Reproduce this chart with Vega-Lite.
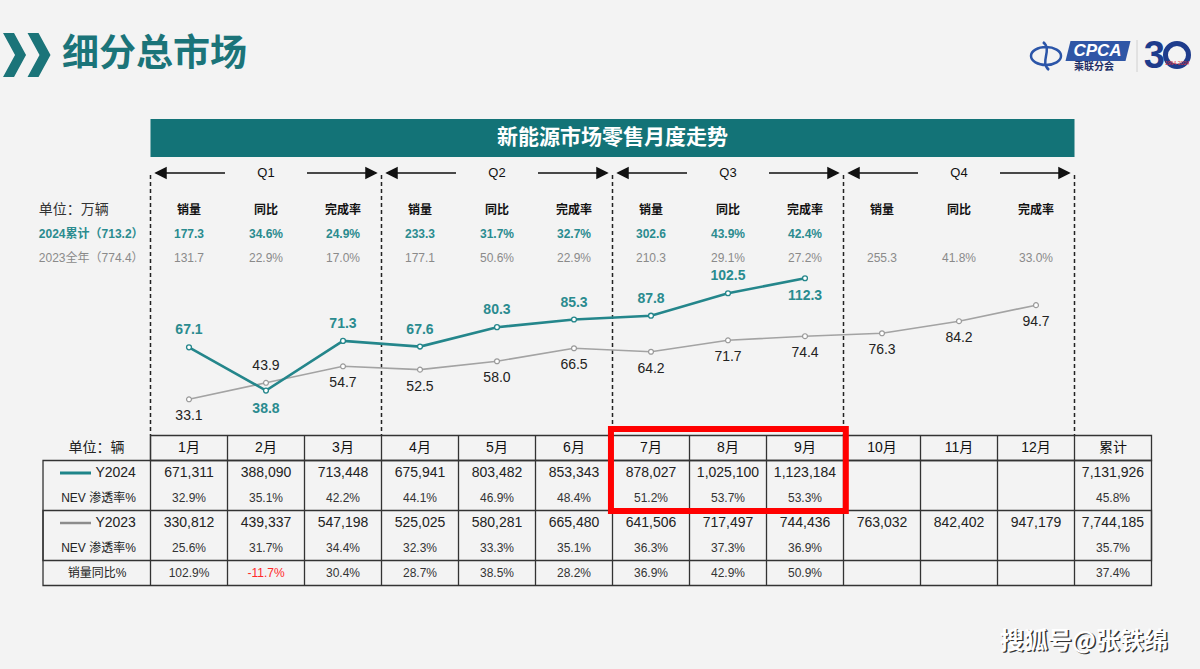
{
 "$schema": "https://vega.github.io/schema/vega-lite/v6.json",
 "width": 1200, "height": 669, "autosize": {"type": "none"}, "padding": 0,
 "background": "#f3f3f3",
 "config": {"view": {"stroke": null}, "text": {"font": "Liberation Sans, Noto Sans CJK SC"}},
 "datasets": {
  "months": [
   {"col":1,"label":"1月","s24":"671,311","p24":"32.9%","s23":"330,812","p23":"25.6%","yoy":"102.9%"},
   {"col":2,"label":"2月","s24":"388,090","p24":"35.1%","s23":"439,337","p23":"31.7%","yoy":"-11.7%"},
   {"col":3,"label":"3月","s24":"713,448","p24":"42.2%","s23":"547,198","p23":"34.4%","yoy":"30.4%"},
   {"col":4,"label":"4月","s24":"675,941","p24":"44.1%","s23":"525,025","p23":"32.3%","yoy":"28.7%"},
   {"col":5,"label":"5月","s24":"803,482","p24":"46.9%","s23":"580,281","p23":"33.3%","yoy":"38.5%"},
   {"col":6,"label":"6月","s24":"853,343","p24":"48.4%","s23":"665,480","p23":"35.1%","yoy":"28.2%"},
   {"col":7,"label":"7月","s24":"878,027","p24":"51.2%","s23":"641,506","p23":"36.3%","yoy":"36.9%"},
   {"col":8,"label":"8月","s24":"1,025,100","p24":"53.7%","s23":"717,497","p23":"37.3%","yoy":"42.9%"},
   {"col":9,"label":"9月","s24":"1,123,184","p24":"53.3%","s23":"744,436","p23":"36.9%","yoy":"50.9%"},
   {"col":10,"label":"10月","s23":"763,032"},
   {"col":11,"label":"11月","s23":"842,402"},
   {"col":12,"label":"12月","s23":"947,179"},
   {"col":13,"label":"累计","s24":"7,131,926","p24":"45.8%","s23":"7,744,185","p23":"35.7%","yoy":"37.4%"}
  ],
  "lines": [
   {"col":1,"series":"Y2024","value":67.1},{"col":2,"series":"Y2024","value":38.8},{"col":3,"series":"Y2024","value":71.3},
   {"col":4,"series":"Y2024","value":67.6},{"col":5,"series":"Y2024","value":80.3},{"col":6,"series":"Y2024","value":85.3},
   {"col":7,"series":"Y2024","value":87.8},{"col":8,"series":"Y2024","value":102.5},{"col":9,"series":"Y2024","value":112.3},
   {"col":1,"series":"Y2023","value":33.1},{"col":2,"series":"Y2023","value":43.9},{"col":3,"series":"Y2023","value":54.7},
   {"col":4,"series":"Y2023","value":52.5},{"col":5,"series":"Y2023","value":58.0},{"col":6,"series":"Y2023","value":66.5},
   {"col":7,"series":"Y2023","value":64.2},{"col":8,"series":"Y2023","value":71.7},{"col":9,"series":"Y2023","value":74.4},
   {"col":10,"series":"Y2023","value":76.3},{"col":11,"series":"Y2023","value":84.2},{"col":12,"series":"Y2023","value":94.7}
  ],
  "stats": [
   {"col":1,"quarter":"Q1","metric":"销量","v2024":"177.3","v2023":"131.7"},
   {"col":2,"quarter":"Q1","metric":"同比","v2024":"34.6%","v2023":"22.9%"},
   {"col":3,"quarter":"Q1","metric":"完成率","v2024":"24.9%","v2023":"17.0%"},
   {"col":4,"quarter":"Q2","metric":"销量","v2024":"233.3","v2023":"177.1"},
   {"col":5,"quarter":"Q2","metric":"同比","v2024":"31.7%","v2023":"50.6%"},
   {"col":6,"quarter":"Q2","metric":"完成率","v2024":"32.7%","v2023":"22.9%"},
   {"col":7,"quarter":"Q3","metric":"销量","v2024":"302.6","v2023":"210.3"},
   {"col":8,"quarter":"Q3","metric":"同比","v2024":"43.9%","v2023":"29.1%"},
   {"col":9,"quarter":"Q3","metric":"完成率","v2024":"42.4%","v2023":"27.2%"},
   {"col":10,"quarter":"Q4","metric":"销量","v2023":"255.3"},
   {"col":11,"quarter":"Q4","metric":"同比","v2023":"41.8%"},
   {"col":12,"quarter":"Q4","metric":"完成率","v2023":"33.0%"}
  ],
  "info": [{"title":"细分总市场","banner":"新能源市场零售月度走势","unitTop":"单位：万辆","cum2024":"2024累计（713.2）","full2023":"2023全年（774.4）","unit":"单位：辆","r24":"Y2024","r23":"Y2023","nev":"NEV 渗透率%","yoy":"销量同比%","brand":"CPCA","brandCn":"乘联分会","anniv":"3","years":"1994-2024","wm":"搜狐号@张铁绵"}]
 },
 "resolve": {"scale": {"y": "independent"}},
 "layer": [
  {"data":{"name":"info"},"mark":{"type":"text","align":"left","baseline":"middle","fontSize":37,"fontWeight":"bold","font":"Noto Sans CJK SC","color":"#1b7479"},
   "encoding":{"x":{"datum":-0.649,"type":"quantitative","scale":{"domain":[-1.454545,14.12987],"nice":false,"zero":false},"axis":null},
    "y":{"datum":-15.72,"type":"quantitative","scale":{"domain":[-17.92,8.84],"reverse":true,"nice":false,"zero":false},"axis":null},
    "text":{"field":"title"}}},
  {"data":{"name":"info"},"mark":{"type":"point","shape":"M-59,-22L-48,-22L-36,0L-48,22L-59,22L-47,0Z M-34.5,-22L-23.5,-22L-11.5,0L-23.5,22L-34.5,22L-22.5,0Z","size":4,"filled":true,"opacity":1,"color":"#1b7479"},
   "encoding":{"x":{"datum":-0.649,"type":"quantitative","scale":{"domain":[-1.454545,14.12987],"nice":false,"zero":false},"axis":null},
    "y":{"datum":-15.72,"type":"quantitative","scale":{"domain":[-17.92,8.84],"reverse":true,"nice":false,"zero":false},"axis":null}}},
  {"data":{"name":"info"},"mark":{"type":"rect","color":"#137377"},
   "encoding":{"x":{"datum":0.5,"type":"quantitative","scale":{"domain":[-1.454545,14.12987],"nice":false,"zero":false},"axis":null},"x2":{"datum":12.5},
    "y":{"datum":-13.16,"type":"quantitative","scale":{"domain":[-17.92,8.84],"reverse":true,"nice":false,"zero":false},"axis":null},"y2":{"datum":-11.64}}},
  {"data":{"name":"info"},"mark":{"type":"text","fontSize":21,"fontWeight":"bold","font":"Noto Sans CJK SC","color":"#ffffff"},
   "encoding":{"x":{"datum":6.5,"type":"quantitative","scale":{"domain":[-1.454545,14.12987],"nice":false,"zero":false},"axis":null},
    "y":{"datum":-12.4,"type":"quantitative","scale":{"domain":[-17.92,8.84],"reverse":true,"nice":false,"zero":false},"axis":null},
    "text":{"field":"banner"}}},
  {"data":{"name":"stats"},"transform":[{"aggregate":[{"op":"mean","field":"col","as":"qmid"}],"groupby":["quarter"]}],
   "mark":{"type":"text","fontSize":13,"color":"#111111"},
   "encoding":{"x":{"field":"qmid","type":"quantitative","scale":{"domain":[-1.454545,14.12987],"nice":false,"zero":false},"axis":null},
    "y":{"datum":-11,"type":"quantitative","scale":{"domain":[-17.92,8.84],"reverse":true,"nice":false,"zero":false},"axis":null},
    "text":{"field":"quarter"}}},
  {"data":{"name":"stats"},"transform":[{"aggregate":[{"op":"mean","field":"col","as":"qmid"}],"groupby":["quarter"]}],
   "mark":{"type":"point","shape":"M-110,0L-100,-5L-100,5Z M-101,0L-41,0 M41,0L101,0 M110,0L100,-5L100,5Z","size":4,"filled":true,"opacity":1,"color":"#111111","stroke":"#111111","strokeWidth":1.5},
   "encoding":{"x":{"field":"qmid","type":"quantitative","scale":{"domain":[-1.454545,14.12987],"nice":false,"zero":false},"axis":null},
    "y":{"datum":-11,"type":"quantitative","scale":{"domain":[-17.92,8.84],"reverse":true,"nice":false,"zero":false},"axis":null}}},
  {"data":{"name":"stats"},"transform":[{"aggregate":[{"op":"min","field":"col","as":"qmin"}],"groupby":["quarter"]}],
   "mark":{"type":"rule","xOffset":-38.5,"strokeDash":[4,3],"strokeWidth":1.5,"color":"#222222"},
   "encoding":{"x":{"field":"qmin","type":"quantitative","scale":{"domain":[-1.454545,14.12987],"nice":false,"zero":false},"axis":null},
    "y":{"datum":-10.92,"type":"quantitative","scale":{"domain":[-17.92,8.84],"reverse":true,"nice":false,"zero":false},"axis":null},"y2":{"datum":-0.5}}},
  {"data":{"name":"stats"},"transform":[{"aggregate":[{"op":"max","field":"col","as":"lastcol"}]}],
   "mark":{"type":"rule","xOffset":38.5,"strokeDash":[4,3],"strokeWidth":1.5,"color":"#222222"},
   "encoding":{"x":{"field":"lastcol","type":"quantitative","scale":{"domain":[-1.454545,14.12987],"nice":false,"zero":false},"axis":null},
    "y":{"datum":-10.92,"type":"quantitative","scale":{"domain":[-17.92,8.84],"reverse":true,"nice":false,"zero":false},"axis":null},"y2":{"datum":-0.5}}},
  {"data":{"name":"stats"},"mark":{"type":"text","fontSize":12,"fontWeight":"bold","color":"#111111"},
   "encoding":{"x":{"field":"col","type":"quantitative","scale":{"domain":[-1.454545,14.12987],"nice":false,"zero":false},"axis":null},
    "y":{"datum":-9.52,"type":"quantitative","scale":{"domain":[-17.92,8.84],"reverse":true,"nice":false,"zero":false},"axis":null},
    "text":{"field":"metric"}}},
  {"data":{"name":"stats"},"transform":[{"filter":"isValid(datum.v2024)"}],"mark":{"type":"text","fontSize":12,"fontWeight":"bold","color":"#2a8b8f"},
   "encoding":{"x":{"field":"col","type":"quantitative","scale":{"domain":[-1.454545,14.12987],"nice":false,"zero":false},"axis":null},
    "y":{"datum":-8.56,"type":"quantitative","scale":{"domain":[-17.92,8.84],"reverse":true,"nice":false,"zero":false},"axis":null},
    "text":{"field":"v2024"}}},
  {"data":{"name":"stats"},"mark":{"type":"text","fontSize":12,"color":"#8a8a8a"},
   "encoding":{"x":{"field":"col","type":"quantitative","scale":{"domain":[-1.454545,14.12987],"nice":false,"zero":false},"axis":null},
    "y":{"datum":-7.6,"type":"quantitative","scale":{"domain":[-17.92,8.84],"reverse":true,"nice":false,"zero":false},"axis":null},
    "text":{"field":"v2023"}}},
  {"data":{"name":"info"},"mark":{"type":"text","align":"left","fontSize":14,"color":"#333333"},
   "encoding":{"x":{"datum":-0.95,"type":"quantitative","scale":{"domain":[-1.454545,14.12987],"nice":false,"zero":false},"axis":null},
    "y":{"datum":-9.52,"type":"quantitative","scale":{"domain":[-17.92,8.84],"reverse":true,"nice":false,"zero":false},"axis":null},
    "text":{"field":"unitTop"}}},
  {"data":{"name":"info"},"mark":{"type":"text","align":"left","fontSize":12,"fontWeight":"bold","color":"#2a8b8f"},
   "encoding":{"x":{"datum":-0.95,"type":"quantitative","scale":{"domain":[-1.454545,14.12987],"nice":false,"zero":false},"axis":null},
    "y":{"datum":-8.56,"type":"quantitative","scale":{"domain":[-17.92,8.84],"reverse":true,"nice":false,"zero":false},"axis":null},
    "text":{"field":"cum2024"}}},
  {"data":{"name":"info"},"mark":{"type":"text","align":"left","fontSize":12,"color":"#8a8a8a"},
   "encoding":{"x":{"datum":-0.95,"type":"quantitative","scale":{"domain":[-1.454545,14.12987],"nice":false,"zero":false},"axis":null},
    "y":{"datum":-7.6,"type":"quantitative","scale":{"domain":[-17.92,8.84],"reverse":true,"nice":false,"zero":false},"axis":null},
    "text":{"field":"full2023"}}},
  {"data":{"name":"info"},"mark":{"type":"rect","filled":false,"color":"#333333","strokeWidth":1.3},
   "encoding":{"x":{"datum":0.5,"type":"quantitative","scale":{"domain":[-1.454545,14.12987],"nice":false,"zero":false},"axis":null},"x2":{"datum":13.5},
    "y":{"datum":-0.5,"type":"quantitative","scale":{"domain":[-17.92,8.84],"reverse":true,"nice":false,"zero":false},"axis":null},"y2":{"datum":0.5}}},
  {"data":{"name":"info"},"mark":{"type":"rect","filled":false,"color":"#333333","strokeWidth":1.3},
   "encoding":{"x":{"datum":-0.896,"type":"quantitative","scale":{"domain":[-1.454545,14.12987],"nice":false,"zero":false},"axis":null},"x2":{"datum":13.5},
    "y":{"datum":0.5,"type":"quantitative","scale":{"domain":[-17.92,8.84],"reverse":true,"nice":false,"zero":false},"axis":null},"y2":{"datum":5.5}}},
  {"data":{"name":"info"},"mark":{"type":"rect","filled":false,"color":"#333333","strokeWidth":1.3},
   "encoding":{"x":{"datum":-0.896,"type":"quantitative","scale":{"domain":[-1.454545,14.12987],"nice":false,"zero":false},"axis":null},"x2":{"datum":13.5},
    "y":{"datum":2.5,"type":"quantitative","scale":{"domain":[-17.92,8.84],"reverse":true,"nice":false,"zero":false},"axis":null},"y2":{"datum":4.5}}},
  {"data":{"name":"months"},"mark":{"type":"rule","xOffset":-38.5,"color":"#333333","strokeWidth":1.3},
   "encoding":{"x":{"field":"col","type":"quantitative","scale":{"domain":[-1.454545,14.12987],"nice":false,"zero":false},"axis":null},
    "y":{"datum":-0.5,"type":"quantitative","scale":{"domain":[-17.92,8.84],"reverse":true,"nice":false,"zero":false},"axis":null},"y2":{"datum":5.5}}},
  {"data":{"name":"months"},"mark":{"type":"text","fontSize":14,"color":"#111111"},
   "encoding":{"x":{"field":"col","type":"quantitative","scale":{"domain":[-1.454545,14.12987],"nice":false,"zero":false},"axis":null},
    "y":{"datum":0,"type":"quantitative","scale":{"domain":[-17.92,8.84],"reverse":true,"nice":false,"zero":false},"axis":null},
    "text":{"field":"label"}}},
  {"data":{"name":"months"},"transform":[{"filter":"isValid(datum.s24)"}],"mark":{"type":"text","fontSize":14,"color":"#222222"},
   "encoding":{"x":{"field":"col","type":"quantitative","scale":{"domain":[-1.454545,14.12987],"nice":false,"zero":false},"axis":null},
    "y":{"datum":1,"type":"quantitative","scale":{"domain":[-17.92,8.84],"reverse":true,"nice":false,"zero":false},"axis":null},
    "text":{"field":"s24"}}},
  {"data":{"name":"months"},"transform":[{"filter":"isValid(datum.p24)"}],"mark":{"type":"text","fontSize":12,"color":"#333333"},
   "encoding":{"x":{"field":"col","type":"quantitative","scale":{"domain":[-1.454545,14.12987],"nice":false,"zero":false},"axis":null},
    "y":{"datum":2,"type":"quantitative","scale":{"domain":[-17.92,8.84],"reverse":true,"nice":false,"zero":false},"axis":null},
    "text":{"field":"p24"}}},
  {"data":{"name":"months"},"transform":[{"filter":"isValid(datum.s23)"}],"mark":{"type":"text","fontSize":14,"color":"#222222"},
   "encoding":{"x":{"field":"col","type":"quantitative","scale":{"domain":[-1.454545,14.12987],"nice":false,"zero":false},"axis":null},
    "y":{"datum":3,"type":"quantitative","scale":{"domain":[-17.92,8.84],"reverse":true,"nice":false,"zero":false},"axis":null},
    "text":{"field":"s23"}}},
  {"data":{"name":"months"},"transform":[{"filter":"isValid(datum.p23)"}],"mark":{"type":"text","fontSize":12,"color":"#333333"},
   "encoding":{"x":{"field":"col","type":"quantitative","scale":{"domain":[-1.454545,14.12987],"nice":false,"zero":false},"axis":null},
    "y":{"datum":4,"type":"quantitative","scale":{"domain":[-17.92,8.84],"reverse":true,"nice":false,"zero":false},"axis":null},
    "text":{"field":"p23"}}},
  {"data":{"name":"months"},"transform":[{"filter":"isValid(datum.yoy)"}],"mark":{"type":"text","fontSize":12},
   "encoding":{"x":{"field":"col","type":"quantitative","scale":{"domain":[-1.454545,14.12987],"nice":false,"zero":false},"axis":null},
    "y":{"datum":5,"type":"quantitative","scale":{"domain":[-17.92,8.84],"reverse":true,"nice":false,"zero":false},"axis":null},
    "text":{"field":"yoy"},
    "color":{"condition":{"test":"indexof(datum.yoy, '-') === 0","value":"#ff2a2a"},"value":"#333333"}}},
  {"data":{"name":"info"},"mark":{"type":"text","fontSize":14,"color":"#222222"},
   "encoding":{"x":{"datum":-0.2,"type":"quantitative","scale":{"domain":[-1.454545,14.12987],"nice":false,"zero":false},"axis":null},
    "y":{"datum":0,"type":"quantitative","scale":{"domain":[-17.92,8.84],"reverse":true,"nice":false,"zero":false},"axis":null},
    "text":{"field":"unit"}}},
  {"data":{"name":"info"},"mark":{"type":"text","align":"right","fontSize":14,"color":"#222222"},
   "encoding":{"x":{"datum":0.31,"type":"quantitative","scale":{"domain":[-1.454545,14.12987],"nice":false,"zero":false},"axis":null},
    "y":{"datum":1,"type":"quantitative","scale":{"domain":[-17.92,8.84],"reverse":true,"nice":false,"zero":false},"axis":null},
    "text":{"field":"r24"}}},
  {"data":{"name":"info"},"mark":{"type":"text","align":"right","fontSize":12,"color":"#222222"},
   "encoding":{"x":{"datum":0.31,"type":"quantitative","scale":{"domain":[-1.454545,14.12987],"nice":false,"zero":false},"axis":null},
    "y":{"datum":2,"type":"quantitative","scale":{"domain":[-17.92,8.84],"reverse":true,"nice":false,"zero":false},"axis":null},
    "text":{"field":"nev"}}},
  {"data":{"name":"info"},"mark":{"type":"text","align":"right","fontSize":14,"color":"#222222"},
   "encoding":{"x":{"datum":0.31,"type":"quantitative","scale":{"domain":[-1.454545,14.12987],"nice":false,"zero":false},"axis":null},
    "y":{"datum":3,"type":"quantitative","scale":{"domain":[-17.92,8.84],"reverse":true,"nice":false,"zero":false},"axis":null},
    "text":{"field":"r23"}}},
  {"data":{"name":"info"},"mark":{"type":"text","align":"right","fontSize":12,"color":"#222222"},
   "encoding":{"x":{"datum":0.31,"type":"quantitative","scale":{"domain":[-1.454545,14.12987],"nice":false,"zero":false},"axis":null},
    "y":{"datum":4,"type":"quantitative","scale":{"domain":[-17.92,8.84],"reverse":true,"nice":false,"zero":false},"axis":null},
    "text":{"field":"nev"}}},
  {"data":{"name":"info"},"mark":{"type":"text","fontSize":12,"color":"#222222"},
   "encoding":{"x":{"datum":-0.195,"type":"quantitative","scale":{"domain":[-1.454545,14.12987],"nice":false,"zero":false},"axis":null},
    "y":{"datum":5,"type":"quantitative","scale":{"domain":[-17.92,8.84],"reverse":true,"nice":false,"zero":false},"axis":null},
    "text":{"field":"yoy"}}},
  {"data":{"name":"info"},"mark":{"type":"point","shape":"M-52,0L-21,0","size":4,"filled":false,"opacity":1,"color":"#1e8489","strokeWidth":3},
   "encoding":{"x":{"datum":0,"type":"quantitative","scale":{"domain":[-1.454545,14.12987],"nice":false,"zero":false},"axis":null},
    "y":{"datum":1,"type":"quantitative","scale":{"domain":[-17.92,8.84],"reverse":true,"nice":false,"zero":false},"axis":null}}},
  {"data":{"name":"info"},"mark":{"type":"point","shape":"M-52,0L-21,0","size":4,"filled":false,"opacity":1,"color":"#8c8c8c","strokeWidth":2.5},
   "encoding":{"x":{"datum":0,"type":"quantitative","scale":{"domain":[-1.454545,14.12987],"nice":false,"zero":false},"axis":null},
    "y":{"datum":3,"type":"quantitative","scale":{"domain":[-17.92,8.84],"reverse":true,"nice":false,"zero":false},"axis":null}}},
  {"data":{"name":"info"},"mark":{"type":"rect","filled":false,"color":"#ff0000","strokeWidth":6},
   "encoding":{"x":{"datum":6.48,"type":"quantitative","scale":{"domain":[-1.454545,14.12987],"nice":false,"zero":false},"axis":null},"x2":{"datum":9.53},
    "y":{"datum":-0.76,"type":"quantitative","scale":{"domain":[-17.92,8.84],"reverse":true,"nice":false,"zero":false},"axis":null},"y2":{"datum":2.52}}},
  {"data":{"name":"lines"},"transform":[{"filter":"datum.series === 'Y2023'"}],"mark":{"type":"line","color":"#a3a3a3","strokeWidth":1.6},
   "encoding":{"x":{"field":"col","type":"quantitative","scale":{"domain":[-1.454545,14.12987],"nice":false,"zero":false},"axis":null},
    "y":{"field":"value","type":"quantitative","scale":{"domain":[-143.4,294.4],"nice":false,"zero":false},"axis":null}}},
  {"data":{"name":"lines"},"transform":[{"filter":"datum.series === 'Y2023'"}],"mark":{"type":"point","shape":"circle","filled":true,"fill":"#ffffff","stroke":"#999999","strokeWidth":1.2,"size":24,"opacity":1},
   "encoding":{"x":{"field":"col","type":"quantitative","scale":{"domain":[-1.454545,14.12987],"nice":false,"zero":false},"axis":null},
    "y":{"field":"value","type":"quantitative","scale":{"domain":[-143.4,294.4],"nice":false,"zero":false},"axis":null}}},
  {"data":{"name":"lines"},"transform":[{"filter":"datum.series === 'Y2024'"}],"mark":{"type":"line","color":"#24868b","strokeWidth":2.6},
   "encoding":{"x":{"field":"col","type":"quantitative","scale":{"domain":[-1.454545,14.12987],"nice":false,"zero":false},"axis":null},
    "y":{"field":"value","type":"quantitative","scale":{"domain":[-143.4,294.4],"nice":false,"zero":false},"axis":null}}},
  {"data":{"name":"lines"},"transform":[{"filter":"datum.series === 'Y2024'"}],"mark":{"type":"point","shape":"circle","filled":true,"fill":"#ffffff","stroke":"#24868b","strokeWidth":1.3,"size":24,"opacity":1},
   "encoding":{"x":{"field":"col","type":"quantitative","scale":{"domain":[-1.454545,14.12987],"nice":false,"zero":false},"axis":null},
    "y":{"field":"value","type":"quantitative","scale":{"domain":[-143.4,294.4],"nice":false,"zero":false},"axis":null}}},
  {"data":{"name":"lines"},"transform":[{"filter":"datum.series === 'Y2023' && datum.col !== 2"}],"mark":{"type":"text","dy":17,"fontSize":14,"color":"#222222"},
   "encoding":{"x":{"field":"col","type":"quantitative","scale":{"domain":[-1.454545,14.12987],"nice":false,"zero":false},"axis":null},
    "y":{"field":"value","type":"quantitative","scale":{"domain":[-143.4,294.4],"nice":false,"zero":false},"axis":null},
    "text":{"field":"value","type":"quantitative","format":".1f"}}},
  {"data":{"name":"lines"},"transform":[{"filter":"datum.series === 'Y2023' && datum.col === 2"}],"mark":{"type":"text","dy":-17,"fontSize":14,"color":"#222222"},
   "encoding":{"x":{"field":"col","type":"quantitative","scale":{"domain":[-1.454545,14.12987],"nice":false,"zero":false},"axis":null},
    "y":{"field":"value","type":"quantitative","scale":{"domain":[-143.4,294.4],"nice":false,"zero":false},"axis":null},
    "text":{"field":"value","type":"quantitative","format":".1f"}}},
  {"data":{"name":"lines"},"transform":[{"filter":"datum.series === 'Y2024' && datum.col !== 2 && datum.col !== 9"}],"mark":{"type":"text","dy":-17,"fontSize":14,"fontWeight":"bold","color":"#2a8b8f"},
   "encoding":{"x":{"field":"col","type":"quantitative","scale":{"domain":[-1.454545,14.12987],"nice":false,"zero":false},"axis":null},
    "y":{"field":"value","type":"quantitative","scale":{"domain":[-143.4,294.4],"nice":false,"zero":false},"axis":null},
    "text":{"field":"value","type":"quantitative","format":".1f"}}},
  {"data":{"name":"lines"},"transform":[{"filter":"datum.series === 'Y2024' && (datum.col === 2 || datum.col === 9)"}],"mark":{"type":"text","dy":18,"fontSize":14,"fontWeight":"bold","color":"#2a8b8f"},
   "encoding":{"x":{"field":"col","type":"quantitative","scale":{"domain":[-1.454545,14.12987],"nice":false,"zero":false},"axis":null},
    "y":{"field":"value","type":"quantitative","scale":{"domain":[-143.4,294.4],"nice":false,"zero":false},"axis":null},
    "text":{"field":"value","type":"quantitative","format":".1f"}}},
  {"data":{"name":"info"},"mark":{"type":"point","shape":"M-15,0A15,9,0,1,1,15,0A15,9,0,1,1,-15,0Z M-3,-14C7,-6,-7,6,3,14","size":4,"filled":false,"opacity":1,"color":"#2b55a8","strokeWidth":2.5},
   "encoding":{"x":{"datum":12.13,"type":"quantitative","scale":{"domain":[-1.454545,14.12987],"nice":false,"zero":false},"axis":null},
    "y":{"datum":-15.68,"type":"quantitative","scale":{"domain":[-17.92,8.84],"reverse":true,"nice":false,"zero":false},"axis":null}}},
  {"data":{"name":"info"},"mark":{"type":"point","shape":"M-27,-10L33,-10L28,10L-32,10Z","size":4,"filled":true,"opacity":1,"color":"#2f56a6"},
   "encoding":{"x":{"datum":12.799,"type":"quantitative","scale":{"domain":[-1.454545,14.12987],"nice":false,"zero":false},"axis":null},
    "y":{"datum":-15.88,"type":"quantitative","scale":{"domain":[-17.92,8.84],"reverse":true,"nice":false,"zero":false},"axis":null}}},
  {"data":{"name":"info"},"mark":{"type":"text","fontSize":17,"fontWeight":"bold","fontStyle":"italic","color":"#ffffff"},
   "encoding":{"x":{"datum":12.799,"type":"quantitative","scale":{"domain":[-1.454545,14.12987],"nice":false,"zero":false},"axis":null},
    "y":{"datum":-15.88,"type":"quantitative","scale":{"domain":[-17.92,8.84],"reverse":true,"nice":false,"zero":false},"axis":null},
    "text":{"field":"brand"}}},
  {"data":{"name":"info"},"mark":{"type":"text","fontSize":10,"fontWeight":"bold","color":"#1f2f66"},
   "encoding":{"x":{"datum":12.753,"type":"quantitative","scale":{"domain":[-1.454545,14.12987],"nice":false,"zero":false},"axis":null},
    "y":{"datum":-15.24,"type":"quantitative","scale":{"domain":[-17.92,8.84],"reverse":true,"nice":false,"zero":false},"axis":null},
    "text":{"field":"brandCn"}}},
  {"data":{"name":"info"},"mark":{"type":"rule","color":"#d0d0d0","strokeWidth":1},
   "encoding":{"x":{"datum":13.312,"type":"quantitative","scale":{"domain":[-1.454545,14.12987],"nice":false,"zero":false},"axis":null},
    "y":{"datum":-16.32,"type":"quantitative","scale":{"domain":[-17.92,8.84],"reverse":true,"nice":false,"zero":false},"axis":null},"y2":{"datum":-15.04}}},
  {"data":{"name":"info"},"mark":{"type":"text","fontSize":38,"fontWeight":"bold","color":"#1e3c8c"},
   "encoding":{"x":{"datum":13.535,"type":"quantitative","scale":{"domain":[-1.454545,14.12987],"nice":false,"zero":false},"axis":null},
    "y":{"datum":-15.64,"type":"quantitative","scale":{"domain":[-17.92,8.84],"reverse":true,"nice":false,"zero":false},"axis":null},
    "text":{"field":"anniv"}}},
  {"data":{"name":"info"},"mark":{"type":"point","shape":"circle","size":530,"filled":false,"opacity":1,"color":"#1e3c8c","strokeWidth":5},
   "encoding":{"x":{"datum":13.831,"type":"quantitative","scale":{"domain":[-1.454545,14.12987],"nice":false,"zero":false},"axis":null},
    "y":{"datum":-15.72,"type":"quantitative","scale":{"domain":[-17.92,8.84],"reverse":true,"nice":false,"zero":false},"axis":null}}},
  {"data":{"name":"info"},"mark":{"type":"text","fontSize":5,"color":"#e03030"},
   "encoding":{"x":{"datum":13.831,"type":"quantitative","scale":{"domain":[-1.454545,14.12987],"nice":false,"zero":false},"axis":null},
    "y":{"datum":-15.42,"type":"quantitative","scale":{"domain":[-17.92,8.84],"reverse":true,"nice":false,"zero":false},"axis":null},
    "text":{"field":"years"}}},
  {"data":{"name":"info"},"mark":{"type":"text","fontSize":24,"fontWeight":"bold","font":"Noto Sans CJK SC","color":"#333333","dx":1.5,"dy":1.5},
   "encoding":{"x":{"datum":12.62,"type":"quantitative","scale":{"domain":[-1.454545,14.12987],"nice":false,"zero":false},"axis":null},
    "y":{"datum":7.75,"type":"quantitative","scale":{"domain":[-17.92,8.84],"reverse":true,"nice":false,"zero":false},"axis":null},
    "text":{"field":"wm"}}},
  {"data":{"name":"info"},"mark":{"type":"text","fontSize":24,"fontWeight":"bold","font":"Noto Sans CJK SC","color":"#ffffff"},
   "encoding":{"x":{"datum":12.62,"type":"quantitative","scale":{"domain":[-1.454545,14.12987],"nice":false,"zero":false},"axis":null},
    "y":{"datum":7.75,"type":"quantitative","scale":{"domain":[-17.92,8.84],"reverse":true,"nice":false,"zero":false},"axis":null},
    "text":{"field":"wm"}}}
 ]
}
